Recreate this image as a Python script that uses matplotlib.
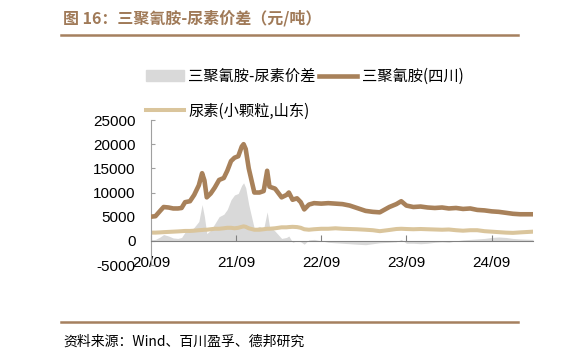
import matplotlib
matplotlib.use("Agg")
import matplotlib.pyplot as plt
import matplotlib.dates as mdates
from matplotlib.patches import Patch
from matplotlib.lines import Line2D
import pandas as pd

plt.rcParams['font.family'] = ['Liberation Sans', 'Noto Sans CJK SC', 'DejaVu Sans']
plt.rcParams['axes.unicode_minus'] = False

# data (元/吨)
dates = ["2020-09-01", "2020-09-20", "2020-10-10", "2020-10-25", "2020-11-15",
         "2020-12-05", "2020-12-25", "2021-01-10", "2021-01-25", "2021-02-15",
         "2021-03-05", "2021-03-25", "2021-04-08", "2021-04-18", "2021-04-28",
         "2021-05-15", "2021-06-01", "2021-06-20", "2021-07-10", "2021-07-25",
         "2021-08-10", "2021-08-25", "2021-09-10", "2021-09-25", "2021-10-03",
         "2021-10-12", "2021-10-25", "2021-11-18", "2021-12-10", "2021-12-28",
         "2022-01-12", "2022-01-22", "2022-02-15", "2022-03-15", "2022-04-05",
         "2022-04-15", "2022-05-01", "2022-05-20", "2022-06-05", "2022-06-20",
         "2022-07-10", "2022-08-01", "2022-09-01", "2022-10-01", "2022-11-01",
         "2022-12-01", "2023-01-01", "2023-02-01", "2023-03-10", "2023-04-10",
         "2023-05-10", "2023-06-20", "2023-07-20", "2023-08-10", "2023-09-01",
         "2023-10-01", "2023-11-01", "2023-12-01", "2024-01-01", "2024-02-01",
         "2024-03-01", "2024-04-01", "2024-05-01", "2024-06-01", "2024-07-01",
         "2024-08-01", "2024-09-01", "2024-10-01", "2024-11-01", "2024-12-01",
         "2025-01-01", "2025-02-25"]
melamine = [5000, 5100, 6200, 7000, 6900, 6700, 6700, 6800, 8000, 8200,
            9500, 11500, 14000, 12500, 9000, 9800, 11000, 12600, 13000, 14500,
            16500, 17200, 17500, 19500, 20000, 19000, 15000, 10000, 10000, 10300,
            14500, 11200, 10800, 9000, 9500, 10000, 8500, 8800, 8000, 6500,
            7500, 7800, 7700, 7800, 7700, 7600, 7300, 6800, 6200, 6000,
            5900, 7000, 7600, 8200, 7300, 7000, 7100, 6900, 6800, 6900,
            6700, 6800, 6600, 6700, 6400, 6300, 6100, 6000, 5800, 5600,
            5500, 5500]
urea = [1700, 1700, 1750, 1800, 1850, 1900, 1950, 2000, 2050, 2050,
        2100, 2200, 2250, 2300, 2300, 2400, 2500, 2500, 2600, 2700,
        2700, 2600, 2700, 2900, 3000, 2900, 2600, 2300, 2300, 2400,
        2500, 2500, 2600, 2800, 2800, 2850, 2900, 2850, 2700, 2400,
        2300, 2400, 2500, 2500, 2600, 2500, 2450, 2400, 2300, 2200,
        2000, 2250, 2450, 2500, 2450, 2400, 2450, 2400, 2350, 2300,
        2350, 2200, 2100, 2200, 2200, 2000, 1900, 1800, 1700, 1650,
        1750, 1900]
spread = [200, 300, 800, 1300, 1000, 600, 500, 700, 1800, 2000,
          2800, 4000, 7500, 5000, 1500, 2200, 3500, 5000, 5500, 6500,
          8500, 9500, 9800, 11500, 12000, 11000, 7500, 2500, 3000, 2500,
          6000, 3000, 2000, 500, 700, 1000, -300, 0, -200, -700,
          200, 300, 0, -300, -400, -500, -600, -700, -800, -600,
          -400, -300, -200, 300, -500, -500, -600, -500, -300, -200,
          -300, 0, 200, 300, 400, 500, 700, 800, 700, 500,
          400, 300]

x = pd.to_datetime(dates)

fig = plt.figure(figsize=(5.82, 3.59), dpi=100)
ax = fig.add_axes([0.2595, 0.2618, 0.9158 - 0.2595, 0.6657 - 0.2618])

ax.fill_between(x, spread, 0, color='#d9d9d9', lw=0, zorder=1)
ax.plot(x, urea, color='#dac59c', lw=2.9, zorder=2)
ax.plot(x, melamine, color='#a8815a', lw=3.3, zorder=3)

ax.set_ylim(-5000, 25000)
ax.set_yticks(range(-5000, 25001, 5000))
ax.set_xlim(x[0], x[-1])
ax.set_xticks(pd.to_datetime(["2020-09-01", "2021-09-01", "2022-09-01",
                              "2023-09-01", "2024-09-01"]))
ax.xaxis.set_major_formatter(mdates.DateFormatter('%y/%m'))

for s in ['top', 'right']:
    ax.spines[s].set_visible(False)
ax.spines['bottom'].set_position(('data', 0))
ax.spines['bottom'].set_color('#808080')
ax.spines['left'].set_color('#a0a0a0')
ax.tick_params(axis='x', direction='in', length=4, color='#808080', pad=11,
               labelsize=11)
ax.tick_params(axis='y', direction='in', length=3, color='#a0a0a0', pad=11,
               labelsize=11)

handles = [Patch(color='#d9d9d9'),
           Line2D([], [], color='#dac59c', lw=2.9),
           Line2D([], [], color='#a8815a', lw=3.3)]
labels = ['三聚氰胺-尿素价差', '尿素(小颗粒,山东)', '三聚氰胺(四川)']
fig.legend(handles, labels, ncol=2, loc='upper left',
           bbox_to_anchor=(0.232, 0.84), frameon=False,
           handlelength=2.5, handletextpad=0.3, columnspacing=0.2,
           labelspacing=1.15, borderpad=0.2,
           prop={'family': ['Noto Sans CJK SC', 'DejaVu Sans'], 'size': 11})

fig.text(0.108, 0.95, '图 16：三聚氰胺-尿素价差（元/吨）', fontsize=11.5,
         fontweight='bold', color='#a07a58', va='center',
         family=['Noto Sans CJK SC', 'DejaVu Sans'])
fig.add_artist(Line2D([0.105, 0.89], [1 - 35 / 359, 1 - 35 / 359],
                      color='#a5805f', lw=1.8))
fig.add_artist(Line2D([0.105, 0.89], [1 - 322 / 359, 1 - 322 / 359],
                      color='#a5805f', lw=1.8))
fig.text(0.108, 1 - 342 / 359, '资料来源：Wind、百川盈孚、德邦研究', fontsize=10,
         va='center', family=['Noto Sans CJK SC', 'DejaVu Sans'])

fig.savefig('out.png', dpi=100)
